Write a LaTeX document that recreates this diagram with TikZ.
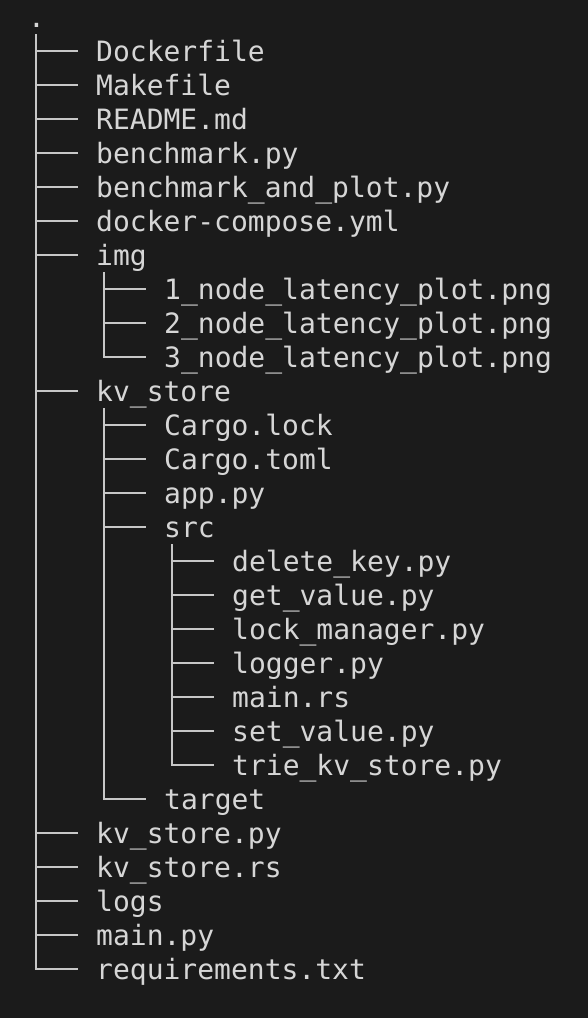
\documentclass[tikz,border=0pt]{standalone}
\usepackage{fontspec}
\newfontfamily\treefont{DejaVu Sans Mono}
\definecolor{termbg}{HTML}{1B1B1B}
\definecolor{termfg}{HTML}{D6D6D6}
\tikzset{
    entry/.style={anchor=west, inner sep=0pt, text height=27pt, text depth=7pt, text=termfg, font=\treefont\fontsize{28}{34}\selectfont},
    branch/.style={draw=termfg!92!termbg, line width=2pt}
}
\begin{document}
\begin{tikzpicture}[x=1pt,y=1pt]

        \fill[termbg] (0,0) rectangle (588,-1018);
        \useasboundingbox (0,0) rectangle (588,-1018);
        % top level
        \node[entry] (root) at (28,-17) {.};
        \node[entry] (dockerfile) at (96,-51) {Dockerfile};
        \node[entry] (makefile) at (96,-85) {Makefile};
        \node[entry] (readme) at (96,-119) {README.md};
        \node[entry] (bench) at (96,-153) {benchmark.py};
        \node[entry] (benchplot) at (96,-187) {benchmark\_and\_plot.py};
        \node[entry] (compose) at (96,-221) {docker-compose.yml};
        \node[entry] (img) at (96,-255) {img};
        \node[entry] (plotA) at (164,-289) {1\_node\_latency\_plot.png};
        \node[entry] (plotB) at (164,-323) {2\_node\_latency\_plot.png};
        \node[entry] (plotC) at (164,-357) {3\_node\_latency\_plot.png};
        \node[entry] (kvstore) at (96,-391) {kv\_store};
        \node[entry] (cargolock) at (164,-425) {Cargo.lock};
        \node[entry] (cargotoml) at (164,-459) {Cargo.toml};
        \node[entry] (app) at (164,-493) {app.py};
        \node[entry] (src) at (164,-527) {src};
        \node[entry] (delkey) at (232,-561) {delete\_key.py};
        \node[entry] (getval) at (232,-595) {get\_value.py};
        \node[entry] (lockmgr) at (232,-629) {lock\_manager.py};
        \node[entry] (logger) at (232,-663) {logger.py};
        \node[entry] (mainrs) at (232,-697) {main.rs};
        \node[entry] (setval) at (232,-731) {set\_value.py};
        \node[entry] (trie) at (232,-765) {trie\_kv\_store.py};
        \node[entry] (target) at (164,-799) {target};
        \node[entry] (kvpy) at (96,-833) {kv\_store.py};
        \node[entry] (kvrs) at (96,-867) {kv\_store.rs};
        \node[entry] (logs) at (96,-901) {logs};
        \node[entry] (mainpy) at (96,-935) {main.py};
        \node[entry] (reqs) at (96,-969) {requirements.txt};
        % tree lines
        \foreach \c in {dockerfile,makefile,readme,bench,benchplot,compose,img,kvstore,kvpy,kvrs,logs,mainpy,reqs}
            \draw[branch] ([xshift=8pt]root.south west) |- ([xshift=-18pt]\c.west);
        \foreach \c in {plotA,plotB,plotC}
            \draw[branch] ([xshift=8pt]img.south west) |- ([xshift=-18pt]\c.west);
        \foreach \c in {cargolock,cargotoml,app,src,target}
            \draw[branch] ([xshift=8pt]kvstore.south west) |- ([xshift=-18pt]\c.west);
        \foreach \c in {delkey,getval,lockmgr,logger,mainrs,setval,trie}
            \draw[branch] ([xshift=8pt]src.south west) |- ([xshift=-18pt]\c.west);

\end{tikzpicture}
\end{document}
